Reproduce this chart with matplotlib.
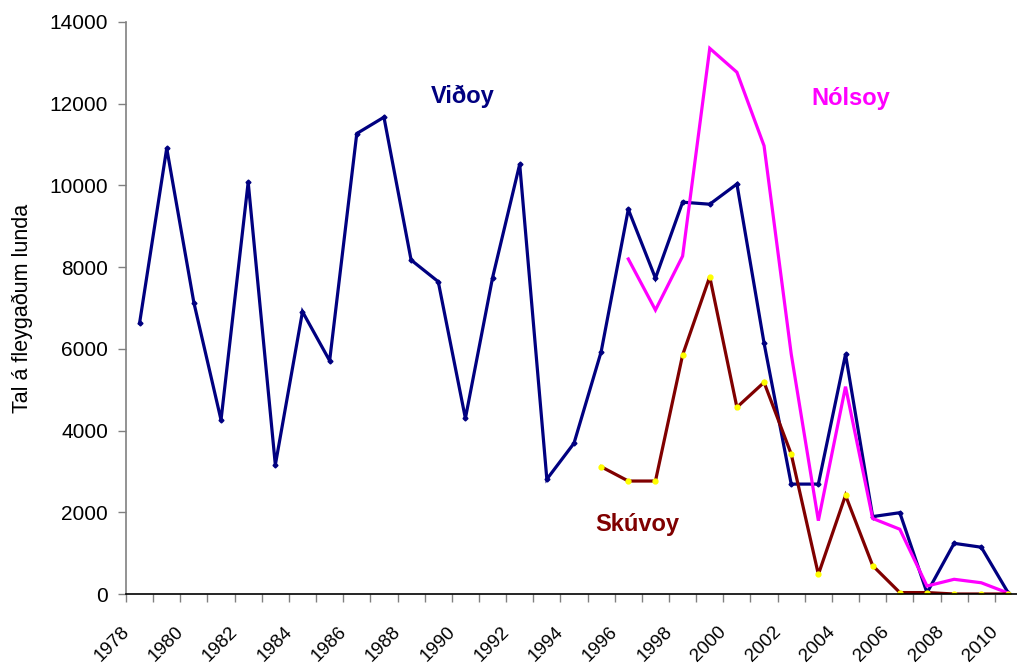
import matplotlib
matplotlib.use("Agg")
import matplotlib.pyplot as plt
from matplotlib.transforms import ScaledTranslation

plt.rcParams['font.family'] = ['Liberation Sans', 'DejaVu Sans']

years = list(range(1978, 2011))

# Viðoy 1978-2010
vidoy = [6630, 10910, 7130, 4260, 10080, 3160, 6910, 5710, 11270, 11670,
         8175, 7645, 4300, 7740, 10520, 2810, 3690, 5930, 9415, 7730,
         9590, 9540, 10035, 6140, 2690, 2690, 5865, 1895, 1990, 30,
         1240, 1145, 20]
# Nólsoy 1996-2010
nolsoy_years = list(range(1996, 2011))
nolsoy = [8200, 6950, 8270, 13355, 12770, 10970, 5875, 1795, 5075, 1850,
          1585, 195, 360, 275, 20]
# Skúvoy 1995-2010
skuvoy_years = list(range(1995, 2011))
skuvoy = [3115, 2765, 2765, 5850, 7765, 4570, 5180, 3425, 480, 2415,
          695, 35, 35, 0, 0, 0]

tick_years = list(range(1978, 2011, 2))

navy = '#000080'
magenta = '#FF00FF'
darkred = '#800000'

fig = plt.figure(figsize=(10.17, 6.68), dpi=100)
ax = fig.add_axes([126 / 1017, 74 / 668, 896 / 1017, 572 / 668])

def pos(ys):
    return [y - 1978 for y in ys]

ax.plot(pos(years), vidoy, color=navy, lw=2.3, marker='D', ms=2.5,
        mfc=navy, mec=navy, solid_joinstyle='miter')
ax.plot(pos(nolsoy_years), nolsoy, color=magenta, lw=2.3,
        solid_joinstyle='miter')
ax.plot(pos(skuvoy_years), skuvoy, color=darkred, lw=2.3, marker='o', ms=3.5,
        mfc='#FFFF00', mec='#FFFF00', solid_joinstyle='miter')

ax.set_xlim(-0.5, 32.5)
ax.set_ylim(0, 14000)
ax.set_yticks(range(0, 14001, 2000))

ax.set_xticks(pos(tick_years))
ax.set_xticklabels([str(y) for y in tick_years], rotation=45, ha='right', va='top')
ax.set_xticks([i - 0.5 for i in range(34)], minor=True)
ax.tick_params(axis='x', which='major', length=0, pad=21, labelsize=13.5)
ax.tick_params(axis='x', which='minor', length=5.5, color='#808080', width=1)
ax.tick_params(axis='y', length=6, color='#808080', width=1, pad=7, labelsize=15)
for lab in ax.get_xticklabels():
    lab.set_transform(lab.get_transform() + ScaledTranslation(-7 / 100, 0, fig.dpi_scale_trans))

for s in ['top', 'right']:
    ax.spines[s].set_visible(False)
ax.spines['left'].set_color('#808080')
ax.spines['left'].set_linewidth(1.2)
ax.spines['bottom'].set_color('black')
ax.spines['bottom'].set_linewidth(1.2)

ax.set_ylabel('Tal á fleygaðum lunda', fontsize=15.5)
ax.yaxis.set_label_coords(-0.104, 0.5)

H = 668
ax.text(463, H - 96, 'Viðoy', color=navy, fontsize=17, fontweight='bold',
        ha='center', va='center', transform=None)
ax.text(851, H - 99, 'Nólsoy', color=magenta, fontsize=17, fontweight='bold',
        ha='center', va='center', transform=None)
ax.text(637, H - 524, 'Skúvoy', color=darkred, fontsize=17, fontweight='bold',
        ha='center', va='center', transform=None)

fig.savefig('out.png', dpi=100)
